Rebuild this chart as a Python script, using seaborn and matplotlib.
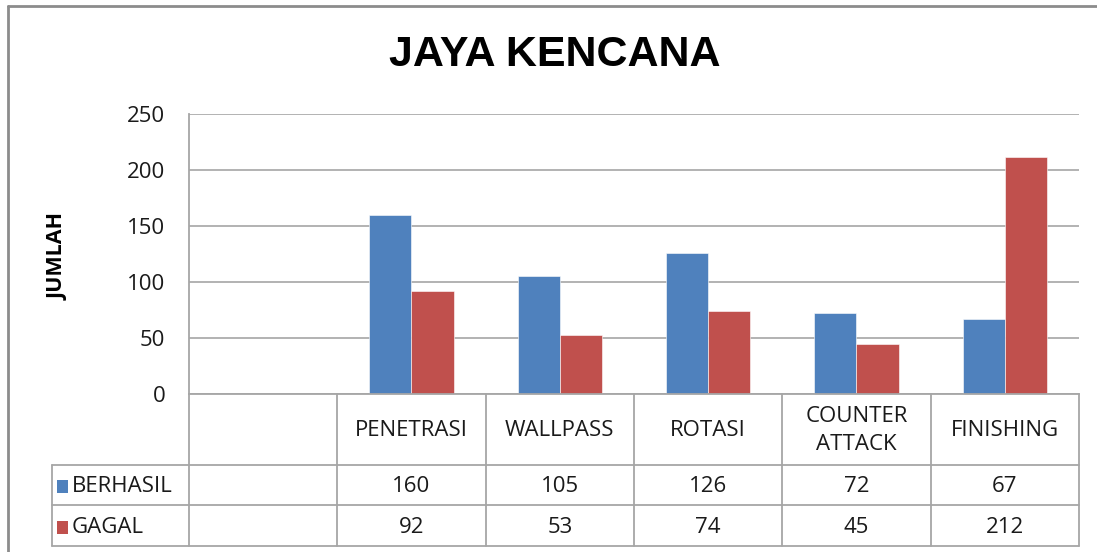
import matplotlib
matplotlib.use("Agg")
import matplotlib.pyplot as plt
import matplotlib.transforms as mtransforms
from matplotlib.patches import Rectangle
import seaborn as sns
import pandas as pd

# ---- data ----
title = "JAYA KENCANA"
ylabel = "JUMLAH"
categories = ["", "PENETRASI", "WALLPASS", "ROTASI", "COUNTER ATTACK", "FINISHING"]
header_labels = ["", "PENETRASI", "WALLPASS", "ROTASI", "COUNTER\nATTACK", "FINISHING"]
series_names = ["BERHASIL", "GAGAL"]
berhasil = [160, 105, 126, 72, 67]
gagal = [92, 53, 74, 45, 212]
yticks = [0, 50, 100, 150, 200, 250]
colors = ["#4F81BD", "#C0504D"]

rows = []
for cat, b, g in zip(categories[1:], berhasil, gagal):
    rows.append({"cat": cat, "series": series_names[0], "val": b})
    rows.append({"cat": cat, "series": series_names[1], "val": g})
df = pd.DataFrame(rows)

sns.set_theme(style="white")
plt.rcParams["font.family"] = ["Open Sans", "DejaVu Sans"]

FS = 16
TXT = "#1A1A1A"

W, H = 1097, 552
fig = plt.figure(figsize=(W / 100, H / 100), dpi=100)
fig.patch.set_facecolor("white")

L, R, T, B = 189, 1079, 114, 394
ax = fig.add_axes([L / W, (H - B) / H, (R - L) / W, (B - T) / H])

sns.barplot(data=df, x="cat", y="val", hue="series", order=categories,
            hue_order=series_names, palette=colors, width=0.57,
            ax=ax, legend=False, saturation=1)
for p in ax.patches:
    p.set_edgecolor("#FFFFFF")
    p.set_linewidth(0.4)

ax.set_xlim(-0.5, len(categories) - 0.5)
ax.set_ylim(0, 250)
ax.set_yticks(yticks)
ax.set_yticklabels([str(v) for v in yticks], fontsize=FS, color=TXT)
ax.tick_params(axis="y", length=0, pad=17)
ax.set_xticks([])
ax.set_xlabel("")
ax.set_ylabel("")
ax.yaxis.grid(True, color="#A6A6A6", linewidth=1.2)
ax.set_axisbelow(True)
for s in ["top", "right"]:
    ax.spines[s].set_visible(False)
for s in ["left", "bottom"]:
    ax.spines[s].set_color("#A6A6A6")
    ax.spines[s].set_linewidth(1.3)

# ---- data table under axis ----
trans = mtransforms.blended_transform_factory(ax.transData, ax.transAxes)
ph = B - T
y_hdr = -(465 - B) / ph
y_r1 = -(505 - B) / ph
y_r2 = -(546 - B) / ph
cw = (R - L) / len(categories)
x_lab_left = -0.5 - (L - 52) / cw
x_lab_text = -0.5 - (L - 72) / cw
x_key = -0.5 - (L - 57) / cw
x_right = len(categories) - 0.5
lc = "#A6A6A6"
lw = 1.3

def hline(x0, x1, y):
    ax.plot([x0, x1], [y, y], color=lc, lw=lw, transform=trans, clip_on=False)

def vline(x, y0, y1):
    ax.plot([x, x], [y0, y1], color=lc, lw=lw, transform=trans, clip_on=False)

hline(x_lab_left, x_right, y_hdr)
hline(x_lab_left, x_right, y_r1)
hline(x_lab_left, x_right, y_r2)
vline(x_lab_left, y_hdr, y_r2)
for i in range(len(categories) + 1):
    vline(i - 0.5, 0, y_r2)

for i, lab in enumerate(header_labels):
    if lab:
        ax.text(i, y_hdr / 2 - 0.005, lab, transform=trans, ha="center", va="center",
                fontsize=FS, color=TXT, linespacing=1.45)

for r, (name, vals, col) in enumerate(zip(series_names, [berhasil, gagal], colors)):
    ytop = y_hdr if r == 0 else y_r1
    ybot = y_r1 if r == 0 else y_r2
    ymid = (ytop + ybot) / 2 - 0.006
    ax.text(x_lab_text, ymid, name, transform=trans, ha="left", va="center",
            fontsize=FS, color=TXT)
    kh = 13 / ph
    ax.add_patch(Rectangle((x_key, ymid - kh / 2), 11 / cw, kh, transform=trans,
                           facecolor=col, edgecolor="none", clip_on=False))
    for i, v in enumerate(vals):
        ax.text(i + 1, ymid, str(v), transform=trans, ha="center", va="center",
                fontsize=FS, color=TXT)

# ---- title and y label ----
fig.text(555 / W, 1 - 55 / H, title, ha="center", va="center", fontsize=31,
         fontweight="bold", family=["Liberation Sans", "DejaVu Sans"], color="black")
fig.text(58 / W, 1 - 256 / H, ylabel, ha="center", va="center", rotation=90,
         fontsize=15.5, fontweight="bold", color="black")

# ---- outer border ----
fig.add_artist(plt.Line2D([8 / W, 1], [1 - 6 / H, 1 - 6 / H], color="#8C8C8C", lw=2,
                          transform=fig.transFigure))
fig.add_artist(plt.Line2D([8 / W, 8 / W], [0, 1 - 6 / H], color="#8C8C8C", lw=2,
                          transform=fig.transFigure))

fig.savefig("out.png", dpi=100)
